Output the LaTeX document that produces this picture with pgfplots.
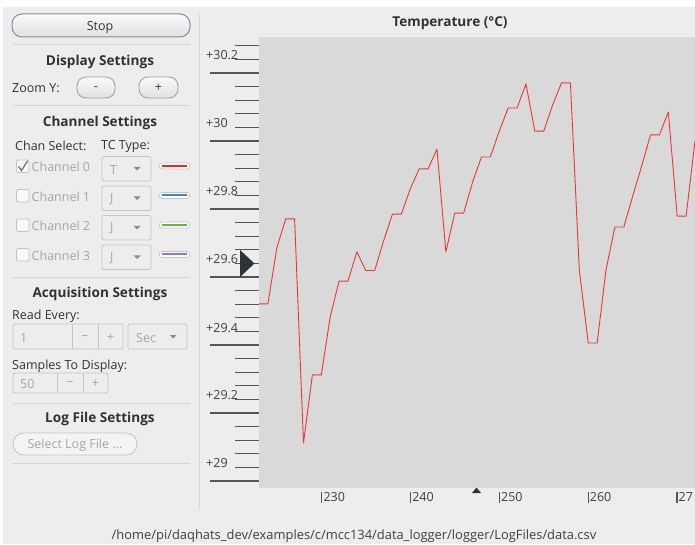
\documentclass[border=0pt]{standalone}
\usepackage{pgfplots}
\pgfplotsset{compat=1.18}
\usepackage{fontspec}
\setmainfont{Open Sans}
\definecolor{winbg}{RGB}{237,237,237}
\definecolor{plotbg}{RGB}{217,217,217}
\definecolor{sepc}{RGB}{214,214,214}
\definecolor{txt}{RGB}{46,52,54}
\definecolor{dis}{RGB}{165,165,165}
\definecolor{tickc}{RGB}{85,85,85}
\definecolor{trace}{RGB}{232,56,48}
\definecolor{ch0}{RGB}{229,37,42}
\definecolor{ch1}{RGB}{58,135,216}
\definecolor{ch2}{RGB}{106,180,60}
\definecolor{ch3}{RGB}{154,108,242}
\definecolor{btnborder}{RGB}{125,140,170}
\definecolor{wborder}{RGB}{196,196,196}
\definecolor{markc}{RGB}{46,52,54}
\pgfplotstableread{
x y
223 29.521
224 29.521
225 29.685
226 29.771
227 29.771
228 29.112
229 29.312
230 29.312
231 29.482
232 29.588
233 29.588
234 29.674
235 29.619
236 29.619
237 29.706
238 29.785
239 29.785
240 29.859
241 29.918
242 29.918
243 29.976
244 29.674
245 29.788
246 29.788
247 29.879
248 29.953
249 29.953
250 30.029
251 30.097
252 30.097
253 30.168
254 30.029
255 30.029
256 30.106
257 30.171
258 30.171
259 29.621
260 29.406
261 29.406
262 29.621
263 29.747
264 29.747
265 29.838
266 29.926
267 30.018
268 30.018
269 30.085
270 29.779
271 29.779
272 30.000
}\tempdata
\begin{document}
\begin{tikzpicture}[x=1pt,y=1pt,
  every node/.style={font=\fontsize{12.5}{14}\selectfont, text=txt, inner sep=0pt, yshift=-1.2pt}]
\useasboundingbox (0,0) rectangle (695,544);
\clip (0,0) rectangle (695,544);
\fill[white] (0,0) rectangle (695,544);
\fill[winbg] (3,0) rectangle (695,537);
\begin{axis}[at={(259pt,56pt)}, anchor=south west, scale only axis,
  width=436pt, height=451pt,
  xmin=223, xmax=272, ymin=28.9794, ymax=30.3059,
  axis background/.style={fill=plotbg},
  axis line style={draw=none},
  xtick=\empty,
  ytick={29,29.2,29.4,29.6,29.8,30,30.2},
  minor ytick={29.04,29.08,29.12,29.16,29.24,29.28,29.32,29.36,29.44,29.48,29.52,29.56,29.64,29.68,29.72,29.76,29.84,29.88,29.92,29.96,30.04,30.08,30.12,30.16,30.24,30.28},
  yticklabels={}, ytick pos=left, tick align=outside,
  major tick length=49pt, minor tick length=24pt,
  tick style={color=tickc, line width=1.2pt},
]
\addplot[trace, line width=0.9pt, line join=round] table[x=x,y=y] {\tempdata};
\end{axis}
\begin{scope}[y=-1pt, yshift=544pt]
% separators
\draw[sepc, line width=1pt] (199,14) -- (199,510);
\foreach \yy in {45,106,277,403,463} \draw[sepc, line width=1pt] (12,\yy) -- (190,\yy);
% Stop button
\draw[btnborder, line width=1pt, rounded corners=10pt, top color=white!96!gray, bottom color=black!12] (12,14) rectangle (190,37);
\node at (100,26) {Stop};
% Display settings
\node[font=\fontsize{13.6}{15}\selectfont\bfseries] at (100,61) {Display Settings};
\node[anchor=west] at (12,87) {Zoom Y:};
\draw[wborder!80!black, line width=0.8pt, rounded corners=9pt, top color=white!96!gray, bottom color=black!12] (77,77) rectangle (115,98);
\node at (96,87) {-};
\draw[wborder!80!black, line width=0.8pt, rounded corners=9pt, top color=white!96!gray, bottom color=black!12] (139,77) rectangle (178,98);
\node at (158.5,87) {+};
% Channel settings
\node[font=\fontsize{13.6}{15}\selectfont\bfseries] at (100,122) {Channel Settings};
\node[anchor=west] at (15,145) {Chan Select:};
\node[anchor=west] at (101,145) {TC Type:};
\foreach \yc/\lab/\tc/\cc in {166/0/T/ch0, 195.5/1/J/ch1, 225/2/J/ch2, 254.5/3/J/ch3}{
  \draw[wborder, fill=white!60!winbg, line width=0.8pt, rounded corners=2pt] (16.5,\yc-6) rectangle (29,\yc+6.5);
  \node[anchor=west, text=dis] at (31.5,\yc) {Channel \lab};
  \draw[wborder, line width=0.8pt, rounded corners=2pt] (102,\yc-9.5) rectangle (151,\yc+15);
  \node[anchor=west, text=dis] at (110,\yc+2.5) {\tc};
  \fill[black!45] (133.5,\yc+1) -- (140.5,\yc+1) -- (137,\yc+4.5) -- cycle;
  \draw[wborder, fill=white, line width=0.7pt, rounded corners=2.5pt] (159.5,\yc-3) rectangle (189.5,\yc+3);
  \draw[\cc, line width=2pt] (162,\yc) -- (187,\yc);
}
\draw[black!55, line width=1.3pt] (18.5,166.5) -- (21.5,170.5) -- (27.5,161);
% Acquisition settings
\node[font=\fontsize{13.6}{15}\selectfont\bfseries] at (100,293) {Acquisition Settings};
\node[anchor=west] at (12,315) {Read Every:};
\draw[wborder, line width=0.8pt, rounded corners=2pt] (13,324) rectangle (123,349);
\draw[wborder, line width=0.8pt] (72,324) -- (72,349) (98,324) -- (98,349);
\node[anchor=west, text=dis] at (20,336.5) {1};
\node[text=dis] at (85,336.5) {−};
\node[text=dis] at (110.5,336.5) {+};
\draw[wborder, line width=0.8pt, rounded corners=2pt] (128,324) rectangle (187,349);
\node[anchor=west, text=dis] at (136,336.5) {Sec};
\fill[black!45] (169.5,335) -- (176.5,335) -- (173,338.5) -- cycle;
\node[anchor=west] at (12,365) {Samples To Display:};
\draw[wborder, line width=0.8pt, rounded corners=2pt] (13,373) rectangle (108,393);
\draw[wborder, line width=0.8pt] (57,373) -- (57,393) (83,373) -- (83,393);
\node[anchor=west, text=dis] at (20,383) {50};
\node[text=dis] at (70,383) {−};
\node[text=dis] at (95.5,383) {+};
% Log file settings
\node[font=\fontsize{13.6}{15}\selectfont\bfseries] at (100,418) {Log File Settings};
\draw[wborder, line width=0.8pt, rounded corners=11pt, fill=white!40!winbg] (13,433) rectangle (137,455);
\node[text=dis] at (75,444) {Select Log File ...};
% chart title
\node[font=\fontsize{13.6}{15}\selectfont\bfseries] at (450,22) {Temperature (°C)};
% y ruler labels
\foreach \v/\yy in {+30.2/53.5,+30/121.5,+29.8/189.5,+29.6/257.5,+29.4/326.5,+29.2/393.5,+29/461.5}
  \node[anchor=west, text=black!75] at (206,\yy) {\v};
% x ruler
\foreach \xx/\v in {321.8/230,410.6/240,499.4/250,588.2/260,677.0/27}{
  \draw[tickc, line width=1.2pt] (\xx,492) -- (\xx,503);
  \node[anchor=west, text=black!75] at (\xx+1.5,495.5) {\v};
}
% position markers
\fill[markc] (240,250) -- (240,277) -- (254.5,263.5) -- cycle;
\fill[markc] (472,493) -- (481,493) -- (476.5,487.5) -- cycle;
% file path
\node[text=black!75, font=\fontsize{12.9}{14}\selectfont] at (354,535) {/home/pi/daqhats\_dev/examples/c/mcc134/data\_logger/logger/LogFiles/data.csv};
\end{scope}
\end{tikzpicture}
\end{document}
